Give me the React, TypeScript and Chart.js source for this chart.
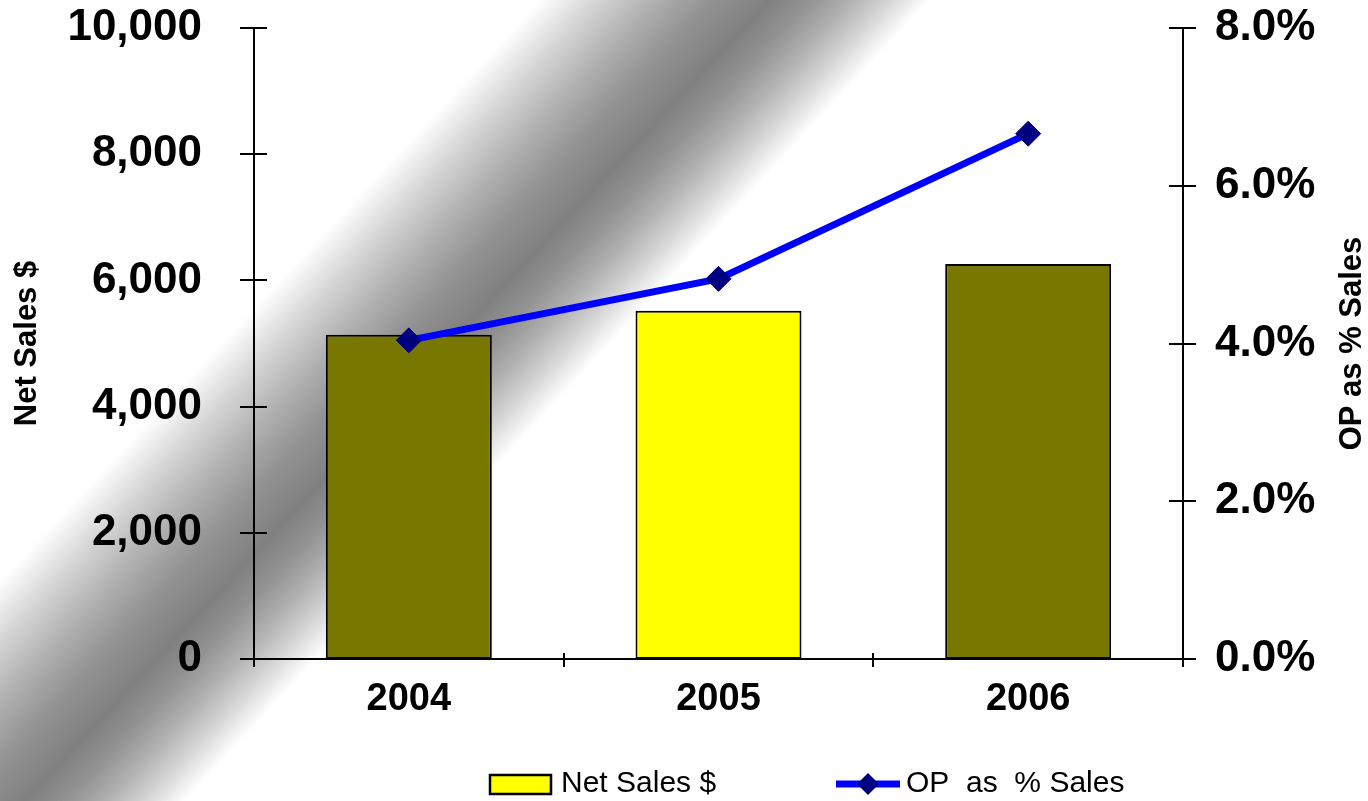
import React, { useEffect, useRef } from "react";
import { Chart, registerables } from "chart.js";

Chart.register(...registerables);

const categories = ["2004", "2005", "2006"];
const netSales = [5140, 5520, 6260];
const opPct = [4.04, 4.82, 6.66];
const barColors = ["#787800", "#FFFF00", "#787800"];
const barLegendColor = "#FFFF00";
const salesLabel = "Net Sales $";
const opLabel = "OP  as  % Sales";
const leftTitle = "Net Sales $";
const rightTitle = "OP as % Sales";

const FONT = "'Liberation Sans', Arial, Helvetica, sans-serif";

const backgroundPlugin = {
  id: "bandBackground",
  beforeDraw(chart: any) {
    const { ctx, width, height } = chart;
    ctx.save();
    ctx.fillStyle = "#ffffff";
    ctx.fillRect(0, 0, width, height);
    const k = 0.93;
    const n = 1 + k * k;
    const s0 = 540;
    const s1 = 930;
    const g = ctx.createLinearGradient(s0 / n, (s0 * k) / n, s1 / n, (s1 * k) / n);
    g.addColorStop(0, "#ffffff");
    g.addColorStop(0.146, "#d5d5d5");
    g.addColorStop(0.295, "#b0b0b0");
    g.addColorStop(0.441, "#929292");
    g.addColorStop(0.59, "#808080");
    g.addColorStop(0.692, "#929292");
    g.addColorStop(0.795, "#b0b0b0");
    g.addColorStop(0.897, "#d5d5d5");
    g.addColorStop(1, "#ffffff");
    ctx.fillStyle = g;
    ctx.fillRect(0, 0, width, height);
    ctx.restore();
  },
};

const axesPlugin = {
  id: "axesLines",
  afterDatasetsDraw(chart: any) {
    const { ctx, chartArea, scales } = chart;
    const { left, right, top, bottom } = chartArea;
    ctx.save();
    ctx.strokeStyle = "#000000";
    ctx.lineWidth = 2;
    ctx.beginPath();
    ctx.moveTo(left, top);
    ctx.lineTo(left, bottom);
    ctx.moveTo(right, top);
    ctx.lineTo(right, bottom);
    ctx.moveTo(left, bottom);
    ctx.lineTo(right, bottom);
    scales.y.ticks.forEach((_t: any, i: number) => {
      const py = Math.round(scales.y.getPixelForTick(i));
      ctx.moveTo(left - 14, py);
      ctx.lineTo(left + 13, py);
    });
    scales.y1.ticks.forEach((_t: any, i: number) => {
      const py = Math.round(scales.y1.getPixelForTick(i));
      ctx.moveTo(right - 14, py);
      ctx.lineTo(right + 13, py);
    });
    for (let i = 0; i <= categories.length; i++) {
      const px = Math.round(scales.x.getPixelForValue(i - 0.5));
      ctx.moveTo(px, bottom - 6);
      ctx.lineTo(px, bottom + 8);
    }
    ctx.stroke();
    ctx.restore();
  },
};

const titlesPlugin = {
  id: "axisTitles",
  afterDraw(chart: any) {
    const { ctx, chartArea } = chart;
    const cy = (chartArea.top + chartArea.bottom) / 2;
    ctx.save();
    ctx.fillStyle = "#000000";
    ctx.font = `bold 31px ${FONT}`;
    ctx.textAlign = "center";
    ctx.textBaseline = "middle";
    [
      [leftTitle, 27],
      [rightTitle, 1352],
    ].forEach(([text, x]) => {
      ctx.save();
      ctx.translate(x as number, cy);
      ctx.rotate(-Math.PI / 2);
      ctx.fillText(text as string, 0, 0);
      ctx.restore();
    });
    ctx.restore();
  },
};

const legendPlugin = {
  id: "customLegend",
  afterDraw(chart: any) {
    const { ctx } = chart;
    const barDs = chart.data.datasets[0];
    const lineDs = chart.data.datasets[1];
    const y = 784;
    ctx.save();
    ctx.fillStyle = barLegendColor;
    ctx.fillRect(490, 775, 61, 19);
    ctx.strokeStyle = "#000000";
    ctx.lineWidth = 2.5;
    ctx.strokeRect(490, 775, 61, 19);
    ctx.fillStyle = "#000000";
    ctx.font = `30px ${FONT}`;
    ctx.textAlign = "left";
    ctx.textBaseline = "middle";
    ctx.fillText(barDs.label, 561, y);
    ctx.strokeStyle = lineDs.borderColor;
    ctx.lineWidth = 7;
    ctx.beginPath();
    ctx.moveTo(836, y);
    ctx.lineTo(900, y);
    ctx.stroke();
    ctx.fillStyle = lineDs.pointBackgroundColor;
    ctx.beginPath();
    const r = 11;
    ctx.moveTo(868, y - r);
    ctx.lineTo(868 + r, y);
    ctx.lineTo(868, y + r);
    ctx.lineTo(868 - r, y);
    ctx.closePath();
    ctx.fill();
    ctx.fillStyle = "#000000";
    ctx.fillText(lineDs.label, 906, y);
    ctx.restore();
  },
};

export default function App() {
  const ref = useRef<HTMLCanvasElement | null>(null);

  useEffect(() => {
    document.body.style.margin = "0";
    const canvas = ref.current;
    if (!canvas) return;
    const chart = new Chart(canvas, {
      type: "bar",
      data: {
        labels: categories,
        datasets: [
          {
            type: "bar",
            label: salesLabel,
            data: netSales,
            backgroundColor: barColors,
            borderColor: "#000000",
            borderWidth: 2,
            borderSkipped: false,
            barPercentage: 0.536,
            categoryPercentage: 1,
            yAxisID: "y",
            order: 1,
          } as any,
          {
            type: "line",
            label: opLabel,
            data: opPct,
            borderColor: "#0000FF",
            borderWidth: 7,
            pointStyle: "rectRot",
            pointRadius: 12.5,
            pointBackgroundColor: "#000080",
            pointBorderColor: "#000080",
            pointBorderWidth: 1,
            tension: 0,
            fill: false,
            yAxisID: "y1",
            order: 0,
          } as any,
        ],
      },
      options: {
        responsive: false,
        devicePixelRatio: 1,
        animation: false,
        layout: { padding: { top: 28, left: 0, right: 0, bottom: 0 } },
        plugins: {
          legend: { display: false },
          tooltip: { enabled: false },
          title: { display: false },
        },
        scales: {
          x: {
            type: "category",
            offset: true,
            grid: { display: false, drawTicks: false },
            border: { display: false },
            ticks: {
              color: "#000000",
              font: { family: FONT, size: 38, weight: "bold" },
              padding: 18,
              maxRotation: 0,
            },
            afterFit: (s: any) => {
              s.height = 142;
              s.paddingLeft = 0;
              s.paddingRight = 0;
            },
          },
          y: {
            position: "left",
            min: 0,
            max: 10000,
            grid: { display: false, drawTicks: false },
            border: { display: false },
            ticks: {
              stepSize: 2000,
              color: "#000000",
              font: { family: FONT, size: 44, weight: "bold" },
              padding: 52,
              callback: (v: any) => Number(v).toLocaleString("en-US"),
            },
            afterFit: (s: any) => {
              s.width = 254;
              s.paddingTop = 0;
              s.paddingBottom = 0;
            },
          },
          y1: {
            position: "right",
            min: 0,
            max: 8,
            grid: { display: false, drawTicks: false },
            border: { display: false },
            ticks: {
              stepSize: 2,
              color: "#000000",
              font: { family: FONT, size: 44, weight: "bold" },
              padding: 32,
              callback: (v: any) => Number(v).toFixed(1) + "%",
            },
            afterFit: (s: any) => {
              s.width = 185;
              s.paddingTop = 0;
              s.paddingBottom = 0;
            },
          },
        },
      } as any,
      plugins: [backgroundPlugin, axesPlugin, titlesPlugin, legendPlugin],
    });
    return () => chart.destroy();
  }, []);

  return (
    <div style={{ width: 1368, height: 801 }}>
      <canvas ref={ref} width={1368} height={801} style={{ display: "block" }} />
    </div>
  );
}
